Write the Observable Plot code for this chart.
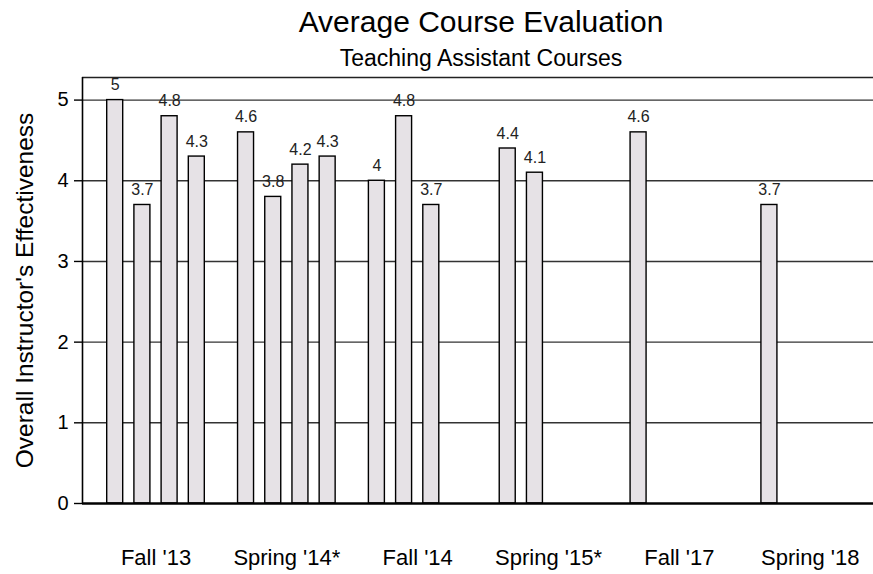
<!DOCTYPE html>
<html>
<head>
<meta charset="utf-8">
<script src="https://cdn.jsdelivr.net/npm/d3@7"></script>
<script src="https://cdn.jsdelivr.net/npm/@observablehq/plot@0.6"></script>
<style>
  html, body { margin: 0; padding: 0; background: #fff; overflow: hidden; }
  body { font-family: "Liberation Sans", Arial, sans-serif; color: #000; width: 873px; height: 574px; }
  #header { position: relative; height: 61px; z-index: 2; }
  #title { position: absolute; top: 6.6px; left: 89px; right: 0; text-align: center; font-size: 30px; line-height: 30px; }
  #subtitle { position: absolute; top: 46.5px; left: 89px; right: 0; text-align: center; font-size: 23px; line-height: 23px; }
  #chart svg { display: block; }
</style>
</head>
<body>
<div id="header">
  <div id="title">Average Course Evaluation</div>
  <div id="subtitle">Teaching Assistant Courses</div>
</div>
<div id="chart"></div>
<script>
// ---- data ----
const terms = ["Fall '13", "Spring '14*", "Fall '14", "Spring '15*", "Fall '17", "Spring '18"];
const ratings = [
  [5, 3.7, 4.8, 4.3],
  [4.6, 3.8, 4.2, 4.3],
  [4, 4.8, 3.7],
  [4.4, 4.1],
  [4.6],
  [3.7]
];
const yTicks = [0, 1, 2, 3, 4, 5];
const yLabel = "Overall Instructor's Effectiveness";

// ---- layout (slot units) ----
const groupPitch = 4.81;   // slots per term group incl. gap
const barHalf = 0.294;     // half bar width in slot units
const xDomain = [-1.202, 27.876];
const yMax = 5.28;

const rows = [];
ratings.forEach((vals, g) => vals.forEach((v, k) => rows.push({term: terms[g], g, k, value: v})));
const pos = d => d.g * groupPitch + d.k;
const centers = terms.map((t, g) => g * groupPitch + 1.5);
const centerLabel = new Map(centers.map((c, g) => [c, terms[g]]));

const chart = Plot.plot({
  width: 873,
  height: 513,
  marginLeft: 82,
  marginRight: 0,
  marginTop: 16,
  marginBottom: 71,
  style: {fontFamily: "'Liberation Sans', Arial, sans-serif", color: "#000", background: "transparent", overflow: "visible"},
  x: {type: "linear", domain: xDomain, axis: null},
  y: {domain: [0, yMax], axis: null},
  marks: [
    Plot.ruleY([1, 2, 3, 4, 5], {stroke: "#333", strokeWidth: 1.4}),
    Plot.ruleY([yMax], {stroke: "#222", strokeWidth: 1.6}),
    Plot.ruleX([xDomain[0]], {y1: 0, y2: yMax, stroke: "#000", strokeWidth: 1.6}),
    Plot.rectY(rows, {
      x1: d => pos(d) - barHalf,
      x2: d => pos(d) + barHalf,
      y: "value",
      fill: "#e6e2e6",
      stroke: "#000",
      strokeWidth: 1.4
    }),
    Plot.ruleY([0], {stroke: "#000", strokeWidth: 2.6, x1: xDomain[0], x2: xDomain[1]}),
    Plot.text(rows, {
      x: pos,
      y: "value",
      text: d => String(d.value),
      lineAnchor: "bottom",
      dy: -10,
      fontSize: 16,
      fill: "#222"
    }),
    Plot.axisY({ticks: yTicks, tickFormat: d => String(d), tickSize: 8, tickPadding: 6, fontSize: 20, label: null, strokeWidth: 1.4}),
    Plot.axisX({ticks: centers, tickFormat: d => centerLabel.get(d), tickSize: 0, tickPadding: 46, fontSize: 22, label: null}),
    Plot.text([yLabel], {frameAnchor: "left", textAnchor: "middle", lineAnchor: "middle", rotate: -90, dx: -57, fontSize: 24.5, fill: "#000"})
  ]
});
document.getElementById("chart").appendChild(chart);
</script>
</body>
</html>
